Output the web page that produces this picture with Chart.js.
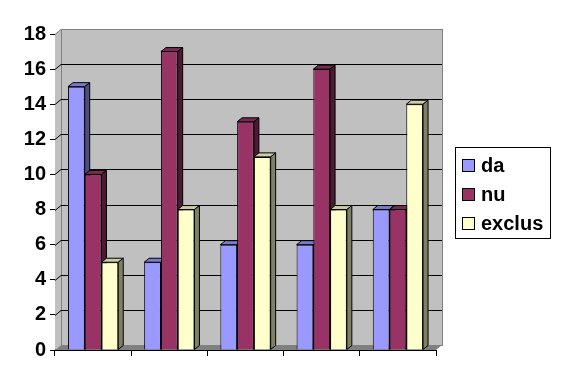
<!DOCTYPE html>
<html>
<head>
<meta charset="utf-8">
<script src="https://cdn.jsdelivr.net/npm/chart.js@4/dist/chart.umd.min.js"></script>
<style>
  html, body { margin: 0; padding: 0; background: #fff; }
  #wrap { width: 563px; height: 385px; }
</style>
</head>
<body>
<div id="wrap"><canvas id="chart" width="563" height="385"></canvas></div>
<script>
const categories = ["1", "2", "3", "4", "5"];
const seriesNames = ["da", "nu", "exclus"];
const daValues = [15, 5, 6, 6, 8];
const nuValues = [10, 17, 13, 16, 8];
const exclusValues = [5, 8, 11, 8, 14];
const yTicks = [0, 2, 4, 6, 8, 10, 12, 14, 16, 18];

// front, top, side colours per series
const faceColors = [
  ["#9999ff", "#7a7acc", "#4d4d80"],
  ["#993366", "#7a2952", "#4d1a33"],
  ["#ffffcc", "#ccccA3", "#808066"],
];

const WALL_DX = 6, WALL_DY = 5;
const BAR_DX = 5, BAR_DY = 4;

// walls, grid and the 3D faces of the bars
const threeD = {
  id: "threeD",
  beforeDatasetsDraw(chart) {
    const ctx = chart.ctx;
    const a = chart.chartArea;
    const y = chart.scales.y;
    ctx.save();
    // left wall
    ctx.fillStyle = "#c0c0c0";
    ctx.strokeStyle = "#808080";
    ctx.lineWidth = 1;
    ctx.beginPath();
    ctx.moveTo(a.left, a.bottom);
    ctx.lineTo(a.left, a.top);
    ctx.lineTo(a.left + WALL_DX, a.top - WALL_DY);
    ctx.lineTo(a.left + WALL_DX, a.bottom - WALL_DY);
    ctx.closePath();
    ctx.fill();
    // back wall
    ctx.fillRect(a.left + WALL_DX, a.top - WALL_DY, a.right - a.left, a.bottom - a.top);
    ctx.strokeRect(a.left + WALL_DX + 0.5, a.top - WALL_DY + 0.5, a.right - a.left, a.bottom - a.top);
    // floor
    ctx.fillStyle = "#808080";
    ctx.beginPath();
    ctx.moveTo(a.left, a.bottom);
    ctx.lineTo(a.right, a.bottom);
    ctx.lineTo(a.right + WALL_DX, a.bottom - WALL_DY);
    ctx.lineTo(a.left + WALL_DX, a.bottom - WALL_DY);
    ctx.closePath();
    ctx.fill();
    // grid lines
    yTicks.forEach((v) => {
      if (v === 0) return;
      const py = Math.round(y.getPixelForValue(v)) + 0.5;
      ctx.strokeStyle = v === 18 ? "#808080" : "#000";
      ctx.beginPath();
      ctx.moveTo(a.left, py);
      ctx.lineTo(a.left + WALL_DX, py - WALL_DY);
      ctx.lineTo(a.right + WALL_DX, py - WALL_DY);
      ctx.stroke();
    });
    // bar tops and sides
    ctx.strokeStyle = "#000";
    chart.data.datasets.forEach((ds, i) => {
      const meta = chart.getDatasetMeta(i);
      meta.data.forEach((bar) => {
        const l = bar.x - bar.width / 2;
        const r = bar.x + bar.width / 2;
        const t = bar.y;
        const b = bar.base;
        ctx.fillStyle = faceColors[i][1];
        ctx.beginPath();
        ctx.moveTo(l, t);
        ctx.lineTo(l + BAR_DX, t - BAR_DY);
        ctx.lineTo(r + BAR_DX, t - BAR_DY);
        ctx.lineTo(r, t);
        ctx.closePath();
        ctx.fill();
        ctx.stroke();
        ctx.fillStyle = faceColors[i][2];
        ctx.beginPath();
        ctx.moveTo(r, t);
        ctx.lineTo(r + BAR_DX, t - BAR_DY);
        ctx.lineTo(r + BAR_DX, b - BAR_DY);
        ctx.lineTo(r, b);
        ctx.closePath();
        ctx.fill();
        ctx.stroke();
      });
    });
    ctx.restore();
  },
  afterDraw(chart) {
    const ctx = chart.ctx;
    ctx.save();
    // legend
    ctx.fillStyle = "#fff";
    ctx.fillRect(455, 147, 95, 91);
    ctx.strokeStyle = "#000";
    ctx.lineWidth = 1;
    ctx.strokeRect(455.5, 147.5, 95, 91);
    const rows = [165, 194, 223];
    ctx.font = "bold 20px 'Liberation Sans', Arial, sans-serif";
    ctx.textBaseline = "middle";
    seriesNames.forEach((name, i) => {
      ctx.fillStyle = faceColors[i][0];
      ctx.fillRect(462, rows[i] - 6, 13, 13);
      ctx.strokeStyle = "#000";
      ctx.strokeRect(462.5, rows[i] - 5.5, 12, 12);
      ctx.fillStyle = "#000";
      ctx.fillText(name, 481, rows[i] + 1);
    });
    ctx.restore();
  },
};

new Chart(document.getElementById("chart"), {
  type: "bar",
  data: {
    labels: categories,
    datasets: [daValues, nuValues, exclusValues].map((vals, i) => ({
      label: seriesNames[i],
      data: vals,
      backgroundColor: faceColors[i][0],
      borderColor: "#000",
      borderWidth: 1,
      categoryPercentage: 0.66,
      barPercentage: 1,
    })),
  },
  options: {
    responsive: false,
    animation: false,
    layout: { padding: { left: 0, right: 127, top: 34, bottom: 29 } },
    plugins: { legend: { display: false }, tooltip: { enabled: false } },
    scales: {
      x: {
        grid: { drawOnChartArea: false, tickLength: 6, color: "#000", offset: true },
        border: { color: "#000" },
        ticks: { display: false },
        afterFit: (s) => { s.height = 6; },
      },
      y: {
        min: 0,
        max: 18,
        afterBuildTicks: (s) => { s.ticks = yTicks.map((v) => ({ value: v })); },
        grid: { drawOnChartArea: false, tickLength: 5, color: "#000" },
        border: { color: "#000" },
        ticks: {
          color: "#000",
          padding: 4,
          font: { family: "'Liberation Sans', Arial, sans-serif", size: 20, weight: "bold" },
        },
        afterFit: (s) => { s.width = 55; },
      },
    },
  },
  plugins: [threeD],
});
</script>
</body>
</html>
